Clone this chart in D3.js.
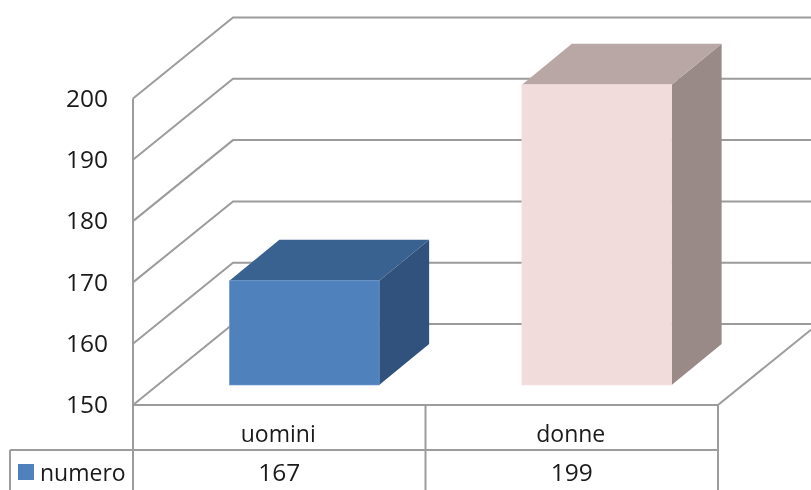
<!DOCTYPE html>
<html>
<head>
<meta charset="utf-8">
<script src="https://cdn.jsdelivr.net/npm/d3@7/dist/d3.min.js"></script>
<style>
	html, body { margin: 0; padding: 0; background: #fff; overflow: hidden; }
	svg { filter: blur(0.45px); }
	text { font-family: "Open Sans", sans-serif; font-size: 23px; fill: #1a1a1a; }
	.num { font-size: 24.5px; }
	.grid { fill: none; stroke: #9c9c9c; stroke-width: 2; }
</style>
</head>
<body>
<div id="chart-area"></div>
<script>
const categories = ["uomini", "donne"]
const values = [167, 199]
const yTicks = [150, 160, 170, 180, 190, 200]
const seriesName = "numero"
const barColors = [
	{ front: "#4f81bd", top: "#3a6290", side: "#30527c", edge: "#6f9bd0" },
	{ front: "#f2dcdb", top: "#b9a7a6", side: "#998a88", edge: "#f4e2e1" }
]

const WIDTH = 811
const HEIGHT = 490
const PLOT = { LEFT: 133, RIGHT: 718, BOTTOM: 405, TOP: 98.5 }
const DEPTH = { X: 100, Y: -81 }
const TABLE = { LEFT: 10, ROW: 450 }

const svg = d3.select("#chart-area").append("svg")
	.attr("width", WIDTH)
	.attr("height", HEIGHT)

// scales
const x = d3.scaleBand().domain(categories).range([PLOT.LEFT, PLOT.RIGHT])
const y = d3.scaleLinear().domain([150, 200]).range([PLOT.BOTTOM, PLOT.TOP])

const grid = svg.append("g").attr("class", "grid")

// walls: side wall plus back wall gridlines
grid.selectAll("path")
	.data(yTicks)
	.join("path")
	.attr("d", d => `M${PLOT.LEFT},${y(d)}L${PLOT.LEFT + DEPTH.X},${y(d) + DEPTH.Y}L${WIDTH},${y(d) + DEPTH.Y}`)

grid.append("line")
	.attr("x1", PLOT.LEFT).attr("x2", PLOT.LEFT)
	.attr("y1", y(200)).attr("y2", HEIGHT)

// floor edge
grid.append("line")
	.attr("x1", PLOT.RIGHT).attr("y1", y(150))
	.attr("x2", WIDTH)
	.attr("y2", y(150) + DEPTH.Y * (WIDTH - PLOT.RIGHT) / DEPTH.X)

// y axis labels
const yAxisCall = d3.axisLeft(y).tickValues(yTicks).tickSize(0).tickPadding(25)
const yAxis = svg.append("g")
	.attr("transform", `translate(${PLOT.LEFT}, 0)`)
	.call(yAxisCall)
yAxis.select(".domain").remove()
yAxis.selectAll("text")
	.attr("class", "num")
	.attr("font-family", null)
	.attr("font-size", null)
	.attr("fill", null)

// bars
const barWidth = x.bandwidth() * 0.512
const barShift = { X: 25, Y: -20 }
const barDepth = { X: 50, Y: -41 }

const bars = svg.selectAll(".bar")
	.data(categories.map((c, i) => ({ c, v: values[i], color: barColors[i] })))
	.join("g")
	.attr("class", "bar")

const base = y(150) + barShift.Y
const barX = d => x(d.c) + x.bandwidth() / 2 + barShift.X - barWidth / 2
const barTop = d => y(d.v) + barShift.Y

bars.append("polygon")
	.attr("fill", d => d.color.side)
	.attr("points", d => {
		const r = barX(d) + barWidth
		return [[r, barTop(d)], [r + barDepth.X, barTop(d) + barDepth.Y], [r + barDepth.X, base + barDepth.Y], [r, base]].join(" ")
	})

bars.append("polygon")
	.attr("fill", d => d.color.top)
	.attr("points", d => {
		const l = barX(d)
		const t = barTop(d)
		return [[l, t], [l + barWidth, t], [l + barWidth + barDepth.X, t + barDepth.Y], [l + barDepth.X, t + barDepth.Y]].join(" ")
	})

bars.append("rect")
	.attr("fill", d => d.color.front)
	.attr("stroke", d => d.color.edge)
	.attr("stroke-width", 0.6)
	.attr("x", barX)
	.attr("y", barTop)
	.attr("width", barWidth)
	.attr("height", d => base - barTop(d))

// data table
const table = svg.append("g").attr("class", "grid")

table.append("line")
	.attr("x1", PLOT.LEFT).attr("x2", PLOT.RIGHT)
	.attr("y1", PLOT.BOTTOM).attr("y2", PLOT.BOTTOM)
table.append("line")
	.attr("x1", TABLE.LEFT).attr("x2", PLOT.RIGHT)
	.attr("y1", TABLE.ROW).attr("y2", TABLE.ROW)
table.append("line")
	.attr("x1", TABLE.LEFT).attr("x2", TABLE.LEFT)
	.attr("y1", TABLE.ROW).attr("y2", HEIGHT)

table.selectAll(".divider")
	.data(categories.slice(1).map(c => x(c)).concat(PLOT.RIGHT))
	.join("line")
	.attr("class", "divider")
	.attr("x1", d => d).attr("x2", d => d)
	.attr("y1", PLOT.BOTTOM).attr("y2", HEIGHT)

svg.selectAll(".cat-label")
	.data(categories)
	.join("text")
	.attr("class", "cat-label")
	.attr("text-anchor", "middle")
	.attr("x", d => x(d) + x.bandwidth() / 2 - 1)
	.attr("y", 442)
	.text(d => d)

svg.selectAll(".val-label")
	.data(categories.map((c, i) => ({ c, v: values[i] })))
	.join("text")
	.attr("class", "val-label num")
	.attr("text-anchor", "middle")
	.attr("x", d => x(d.c) + x.bandwidth() / 2)
	.attr("y", 481)
	.text(d => d.v)

// legend key
svg.append("rect")
	.attr("x", 18).attr("y", 464)
	.attr("width", 16).attr("height", 16)
	.attr("fill", barColors[0].front)

svg.append("text")
	.attr("x", 40)
	.attr("y", 481)
	.text(seriesName)
</script>
</body>
</html>
